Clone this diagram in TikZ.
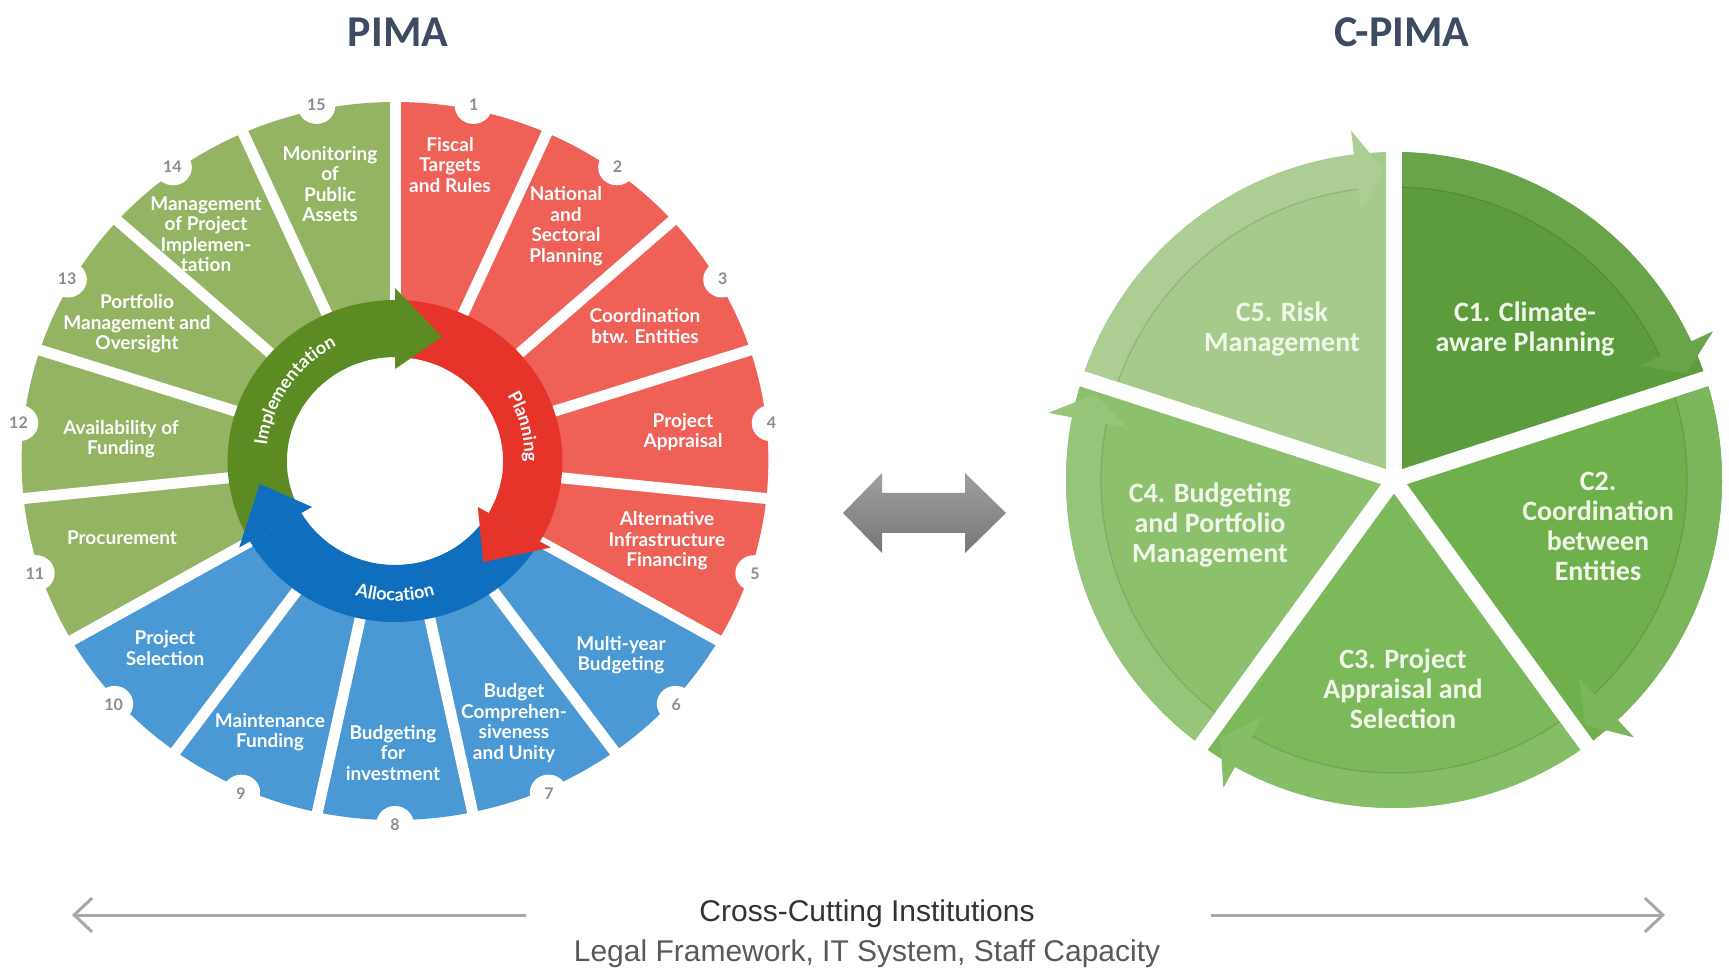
\documentclass[tikz,border=0pt]{standalone}
\usepackage{fontspec}
\setmainfont{Lato}
\newfontfamily\calibri{Carlito}
\newfontfamily\arial{Liberation Sans}
\usetikzlibrary{arrows.meta,decorations.text}

\definecolor{segred}{RGB}{239,96,87}
\definecolor{segblue}{RGB}{74,153,212}
\definecolor{seggreen}{RGB}{148,180,100}
\definecolor{ringred}{RGB}{231,52,42}
\definecolor{ringblue}{RGB}{16,110,190}
\definecolor{ringgreen}{RGB}{92,139,36}
\definecolor{numgray}{RGB}{140,140,140}
\definecolor{headblue}{RGB}{61,75,99}
\definecolor{cone}{RGB}{92,156,60}
\definecolor{ctwo}{RGB}{112,176,76}
\definecolor{cthree}{RGB}{124,185,90}
\definecolor{cfour}{RGB}{141,192,109}
\definecolor{cfive}{RGB}{165,202,140}
\definecolor{ctext}{RGB}{240,247,234}
\definecolor{arrowtop}{RGB}{160,160,160}
\definecolor{arrowbot}{RGB}{118,118,118}
\definecolor{linegray}{RGB}{168,168,168}

\tikzset{
  segtxt/.style={text=white,font=\fontsize{19}{20.5}\selectfont\bfseries,align=center,inner sep=0pt},
  numtxt/.style={text=numgray,font=\fontsize{16}{16}\selectfont\bfseries,inner sep=0pt},
  ctxt/.style={text=ctext,font=\calibri\fontsize{28}{30}\selectfont\bfseries,align=center,inner sep=0pt},
  headtxt/.style={text=headblue,font=\calibri\fontsize{44}{44}\selectfont\bfseries},
  foottxt/.style={font=\arial\fontsize{30}{30}\selectfont}
}
\newcommand\ringfont{\fontsize{18}{18}\selectfont\bfseries\color{white}}

\begin{document}
\begin{tikzpicture}[x=1pt,y=1pt,>={Straight Barb[length=18pt,width=34pt]}]
\useasboundingbox (0,0) rectangle (1729,970);

\node[headtxt] (pima) at (398,938) {PIMA};
\node[headtxt] (cpima) at (1402,938) {C-PIMA};

% PIMA wheel
\begin{scope}[shift={(395,509)},xscale=1.04]
\fill[segred] (0,0) -- (90:359) arc[start angle=90,end angle=-30,radius=359] -- cycle;
\fill[segblue] (0,0) -- (-30:359) arc[start angle=-30,end angle=-150,radius=359] -- cycle;
\fill[seggreen] (0,0) -- (-150:359) arc[start angle=-150,end angle=-270,radius=359] -- cycle;
\foreach \a in {90,66,...,-246} \draw[white,line width=11pt] (\a:90) -- (\a:380);
\fill[white] (0,0) circle (104);
\foreach \n in {1,...,15} {
  \fill[white] (90-24*\n+12:363) circle (18);
  \node[numtxt] (num\n) at (90-24*\n+12:364) {\n};
}
\foreach \s/\c in {210/ringgreen,90/ringred,-30/ringblue}
  \fill[\c] (\s:161) arc[start angle=\s,end angle=\s-120,radius=161] -- (\s-120:104) arc[start angle=\s-120,end angle=\s,radius=104] -- cycle;
\foreach \s/\c in {210/ringgreen,90/ringred,-30/ringblue}
  \fill[\c] (\s-120:173) -- (\s-140:132) -- (\s-120:92) -- cycle;
\end{scope}

\begin{scope}[shift={(395,509)}]
\path[decorate,decoration={text along path,text align=center,text={|\ringfont|Implementation}}]
  (195:129) arc[start angle=195,end angle=95,radius=129];
\path[decorate,decoration={text along path,text align=center,text={|\ringfont|Planning}}]
  (50:130) arc[start angle=50,end angle=-20,radius=130];
\path[decorate,decoration={text along path,text align=center,text={|\ringfont|Allocation}}]
  (-140:140) arc[start angle=-140,end angle=-40,radius=140];
\end{scope}

\foreach \x/\y/\t [count=\i] in {
  450/805/{Fiscal\\Targets\\and Rules},
  566/744/{National\\and\\Sectoral\\Planning},
  645/644/{Coordination\\btw. Entities},
  683/538/{Project\\Appraisal},
  667/429/{Alternative\\Infrastructure\\Financing},
  621/315/{Multi-year\\Budgeting},
  514/247/{Budget\\Comprehen-\\siveness\\and Unity},
  393/217/{Budgeting\\for\\investment},
  270/238/{Maintenance\\Funding},
  165/322/{Project\\Selection},
  122/432/{Procurement},
  121/531/{Availability of\\Funding},
  137/646/{Portfolio\\Management and\\Oversight},
  206/736/{Management\\of Project\\Implemen-\\tation},
  330/786/{Monitoring\\of\\Public\\Assets}}
  \node[segtxt] (seg\i) at (\x,\y) {\t};

% double arrow between the two wheels
\shade[top color=arrowtop,bottom color=arrowbot] (843,457) -- (882,497) -- (882,477) -- (965,477)
  -- (965,497) -- (1006,457) -- (965,417) -- (965,437) -- (882,437) -- (882,417) -- cycle;

% C-PIMA cycle
\begin{scope}[shift={(1394,490)}]
\foreach \a/\c in {90/cone,18/ctwo,-54/cthree,-126/cfour,162/cfive} {
  \fill[\c] (\a-36:13.6) -- (\a-1.4:328) arc[start angle=\a-1.4,end angle=\a-70.6,radius=328] -- cycle;
  \fill[\c!92!white] (\a-1.4:328) arc[start angle=\a-1.4,end angle=\a-65,radius=328] -- (\a-65:352)
    -- (\a-70:311) -- (\a-65:271) -- (\a-65:293) arc[start angle=\a-65,end angle=\a-1.6,radius=293] -- cycle;
  \draw[\c!75!black,line width=1.5pt,opacity=.4] (\a-1.6:293) arc[start angle=\a-1.6,end angle=\a-65,radius=293];
}
\end{scope}
\node[ctxt] (risk) at (1282,641) {C5. Risk\\Management};
\node[ctxt] (climate) at (1525,641) {C1. Climate-\\aware Planning};
\node[ctxt] (coord) at (1598,444) {C2.\\Coordination\\between\\Entities};
\node[ctxt] (appraisal) at (1403,281) {C3. Project\\Appraisal and\\Selection};
\node[ctxt] (budget) at (1210,445) {C4. Budgeting\\and Portfolio\\Management};

% cross-cutting line
\node[foottxt,text=black!80] (cross) at (867,56) {Cross-Cutting Institutions};
\node[foottxt,text=black!65] (legal) at (867,16) {Legal Framework, IT System, Staff Capacity};
\coordinate (lstart) at (526,55);
\coordinate (lend) at (72,55);
\coordinate (rstart) at (1211,55);
\coordinate (rend) at (1665,55);
\draw[->,linegray,line width=3pt] (lstart) -- (lend);
\draw[->,linegray,line width=3pt] (rstart) -- (rend);
\end{tikzpicture}
\end{document}
